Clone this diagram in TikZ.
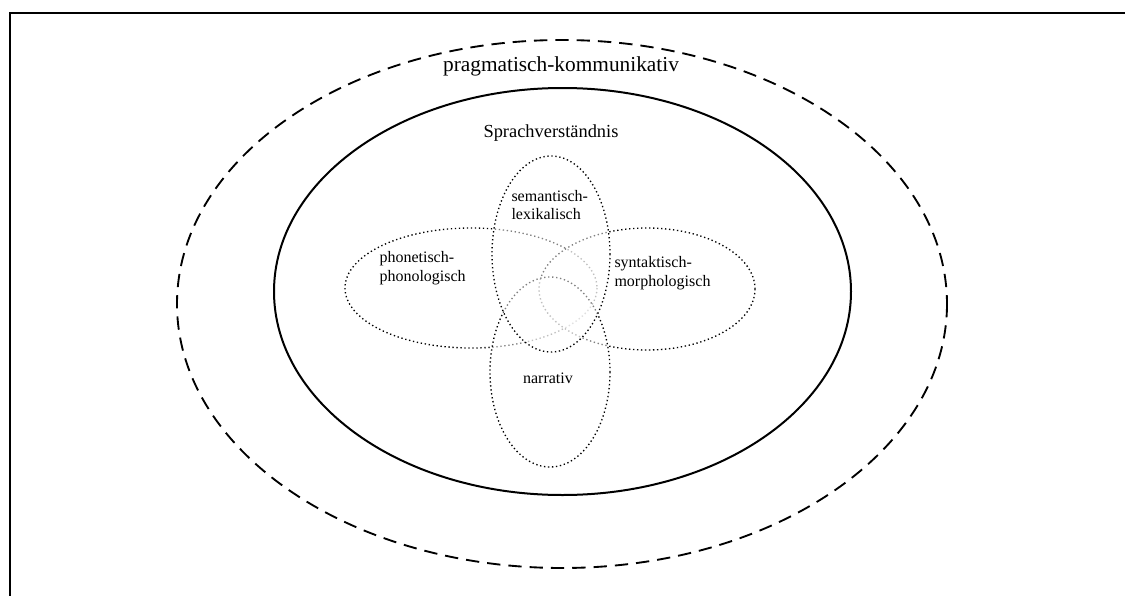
\documentclass[tikz,border=0pt]{standalone}
\usepackage{fontspec}
\setmainfont{Liberation Serif}
\tikzset{every picture/.style={line width=0.75pt}}
\tikzset{
  area/.style={draw, dotted, line width=1pt, dash pattern=on 1pt off 2pt, fill=white, fill opacity=0.5},
  arealabel/.style={anchor=west, inner sep=0.75pt, align=left, font=\fontsize{12}{14}\selectfont}
}

\begin{document}
\begin{tikzpicture}[x=0.75pt,y=0.75pt,yscale=-1,xscale=1]
\useasboundingbox (0,0) rectangle (1125,596);

%Frame
\draw [line width=1.5pt] (10,600) -- (10,13) -- (1130,13) ;

%Shape: Ellipse pragmatisch
\draw [line width=1.4pt, dash pattern=on 10pt off 6pt] (562,304) ellipse [x radius=385, y radius=264] ;
%Shape: Ellipse Sprachverstaendnis
\draw [line width=1.5pt] (562.5,291.5) ellipse [x radius=288.5, y radius=203.5] ;

%Shape: Ellipse phonetisch
\draw [area] (471,288) ellipse [x radius=126, y radius=60] ;
%Shape: Ellipse syntaktisch
\draw [area] (647,289) ellipse [x radius=108, y radius=61] ;
%Shape: Ellipse narrativ
\draw [area] (550,372) ellipse [x radius=60, y radius=95] ;
%Shape: Ellipse semantisch
\draw [area] (551,254) ellipse [x radius=59, y radius=98] ;

% Text Node
\node (pragm) at (561,66) [inner sep=0.75pt, font=\fontsize{16}{19}\selectfont] {pragmatisch-kommunikativ};
% Text Node
\node (sprach) at (551,133) [inner sep=0.75pt, font=\fontsize{13.8}{16}\selectfont] {Sprachverständnis};
% Text Node
\node (sem) at (510,205) [arealabel] {semantisch-\\lexikalisch};
% Text Node
\node (phon) at (378,268) [arealabel] {phonetisch-\\phonologisch};
% Text Node
\node (synt) at (613,273) [arealabel] {syntaktisch-\\morphologisch};
% Text Node
\node (narr) at (548,378) [inner sep=0.75pt, font=\fontsize{12}{14}\selectfont] {narrativ};

\end{tikzpicture}
\end{document}
